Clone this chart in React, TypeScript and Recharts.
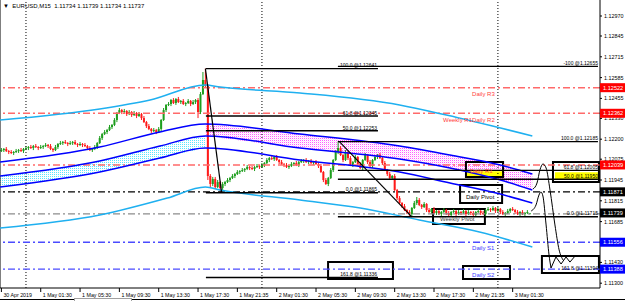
import {
  ComposedChart,
  Bar,
  Line,
  Area,
  Scatter,
  XAxis,
  YAxis,
  ReferenceLine,
  ReferenceArea,
} from "recharts";

// M15 candles, bar 0 = 30 Apr 21:30
const opens = [
  1.12126,1.12132,1.12139,1.12126,1.1212,1.12114,1.1212,1.12126,1.12132,1.12126,
  1.12139,1.12145,1.12151,1.12145,1.12157,1.12151,1.12145,1.12151,1.12157,1.12164,
  1.12157,1.12139,1.12132,1.12151,1.1217,1.12176,1.12182,1.12176,1.1217,1.12176,
  1.12182,1.1217,1.12164,1.1217,1.12164,1.12157,1.12145,1.12132,1.12139,1.12151,
  1.12176,1.12207,1.12232,1.12245,1.12257,1.12276,1.12289,1.1232,1.12364,1.12382,
  1.1237,1.12376,1.12357,1.1237,1.12351,1.12364,1.12345,1.12357,1.12332,1.12307,
  1.12282,1.12264,1.12251,1.12257,1.12245,1.12264,1.1232,1.12382,1.12414,1.1242,
  1.12445,1.12426,1.12451,1.12432,1.12439,1.1242,1.12426,1.12439,1.1242,1.12432,
  1.12445,1.1237,1.12482,1.1257,1.12532,1.1197,1.1192,1.11951,1.11901,1.11932,
  1.11895,1.1192,1.11932,1.11945,1.11957,1.1197,1.11982,1.11995,1.12001,1.12007,
  1.12014,1.12026,1.1202,1.12014,1.12026,1.12032,1.12026,1.12039,1.12051,1.1207,
  1.12082,1.12076,1.12089,1.1207,1.12057,1.12045,1.12039,1.12026,1.12032,1.12045,
  1.12051,1.12039,1.12057,1.12064,1.1207,1.12057,1.12064,1.12051,1.12057,1.12045,
  1.12032,1.11995,1.11945,1.1192,1.11957,1.12007,1.1207,1.1212,1.12145,1.12101,
  1.1207,1.1212,1.12082,1.12039,1.12057,1.12089,1.12045,1.1202,1.1207,1.12101,
  1.12057,1.12032,1.1207,1.12089,1.12101,1.12082,1.12051,1.12007,1.11982,1.11957,
  1.1197,1.11882,1.11832,1.11801,1.11782,1.11757,1.11745,1.11732,1.1177,1.11801,
  1.1182,1.11789,1.11776,1.11795,1.11757,1.11745,1.11764,1.11739,1.11751,1.11732,
  1.11745,1.11757,1.11739,1.11726,1.11745,1.11751,1.11732,1.11745,1.11739,1.11751,
  1.11732,1.11745,1.11739,1.11726,1.11745,1.11751,1.11739,1.11732,1.11757,1.11764,
  1.11757,1.1177,1.11751,1.11764,1.11745,1.11732,1.11739,1.11751,1.11764,1.11757,
  1.11745,1.11732,1.11745,1.11732,1.11739,1.11734,
];
const highs = [
  1.12145,1.12145,1.12151,1.12132,1.12132,1.12126,1.12139,1.12139,1.12145,1.12145,
  1.12157,1.12157,1.12164,1.12164,1.1217,1.12157,1.12164,1.12164,1.12176,1.1217,
  1.1217,1.12145,1.12164,1.12176,1.12189,1.12189,1.12195,1.12182,1.12189,1.12189,
  1.12195,1.12176,1.12182,1.12176,1.12176,1.12164,1.12157,1.12145,1.12164,1.12182,
  1.1222,1.12239,1.12257,1.12264,1.12289,1.12295,1.12332,1.1237,1.12395,1.12389,
  1.12389,1.12382,1.12382,1.12376,1.12376,1.1237,1.1237,1.12364,1.12345,1.12314,
  1.12295,1.1227,1.1227,1.12264,1.12276,1.12326,1.12395,1.1242,1.12432,1.12451,
  1.12457,1.12457,1.12464,1.12445,1.12451,1.12432,1.12451,1.12445,1.12445,1.12451,
  1.12457,1.12495,1.1262,1.12641,1.12545,1.11982,1.11964,1.11964,1.11945,1.11939,
  1.11932,1.11939,1.11957,1.11964,1.11982,1.11989,1.12007,1.12007,1.1202,1.1202,
  1.12039,1.12032,1.12032,1.12032,1.12045,1.12039,1.12051,1.12057,1.12082,1.12089,
  1.12095,1.12095,1.12101,1.12076,1.1207,1.12051,1.12051,1.12039,1.12057,1.12057,
  1.12064,1.12064,1.12076,1.12076,1.12082,1.1207,1.12076,1.12064,1.1207,1.12051,
  1.12045,1.12001,1.11957,1.11964,1.1202,1.12076,1.12132,1.12185,1.12157,1.12107,
  1.12132,1.12126,1.12095,1.12064,1.12101,1.12095,1.12057,1.12076,1.12114,1.12107,
  1.1207,1.12076,1.12101,1.12107,1.12114,1.12089,1.12064,1.12014,1.11995,1.11976,
  1.11982,1.11889,1.11845,1.11807,1.11795,1.11764,1.11757,1.11776,1.11814,1.11839,
  1.11832,1.11795,1.11807,1.11801,1.1177,1.1177,1.11776,1.11757,1.11757,1.11751,
  1.1177,1.11764,1.11751,1.11751,1.11764,1.11757,1.11757,1.11751,1.11764,1.11757,
  1.11757,1.11751,1.11751,1.11751,1.11764,1.11757,1.11751,1.11764,1.11776,1.1177,
  1.11782,1.11776,1.11776,1.1177,1.11757,1.11745,1.11764,1.1177,1.11776,1.11764,
  1.11757,1.11751,1.11757,1.11745,1.11757,1.11739,
];
const lows = [
  1.1212,1.1212,1.1212,1.12107,1.12107,1.12101,1.12114,1.12114,1.1212,1.12114,
  1.12132,1.12132,1.12139,1.12132,1.12145,1.12132,1.12139,1.12139,1.12151,1.12145,
  1.12132,1.1212,1.12126,1.12139,1.12164,1.12164,1.1217,1.12157,1.12164,1.12164,
  1.12164,1.12151,1.12157,1.12151,1.12151,1.12132,1.12126,1.1212,1.12132,1.12139,
  1.1217,1.12195,1.12226,1.12232,1.12251,1.12264,1.12282,1.12307,1.12357,1.12357,
  1.12364,1.12345,1.12351,1.12339,1.12345,1.12332,1.12339,1.1232,1.12301,1.1227,
  1.12257,1.12239,1.12245,1.12232,1.12239,1.12251,1.12314,1.1237,1.12407,1.12407,
  1.1242,1.12414,1.12426,1.1242,1.12414,1.12407,1.1242,1.12407,1.12414,1.1242,
  1.12332,1.12357,1.12476,1.1252,1.11945,1.11901,1.11907,1.11889,1.11895,1.11865,
  1.11882,1.11907,1.11926,1.11932,1.11951,1.11957,1.11976,1.11982,1.11995,1.11995,
  1.12007,1.12007,1.12007,1.12001,1.1202,1.12014,1.1202,1.12026,1.12045,1.12057,
  1.1207,1.12064,1.12064,1.12045,1.12039,1.12026,1.1202,1.12014,1.12026,1.12032,
  1.12032,1.12026,1.12051,1.12051,1.12051,1.12045,1.12045,1.12039,1.12039,1.1202,
  1.11989,1.11932,1.11914,1.11907,1.11951,1.11995,1.12064,1.12107,1.12095,1.12057,
  1.12064,1.1207,1.12032,1.12026,1.12051,1.12032,1.12014,1.12007,1.12064,1.12045,
  1.12026,1.1202,1.12064,1.12076,1.12076,1.12039,1.12001,1.1197,1.11951,1.11945,
  1.11876,1.1182,1.11795,1.1177,1.11751,1.11732,1.11715,1.1172,1.11764,1.11789,
  1.11782,1.11764,1.1177,1.11745,1.11739,1.11732,1.11732,1.11726,1.11726,1.1172,
  1.11739,1.11726,1.1172,1.11716,1.11739,1.1172,1.11726,1.11726,1.11732,1.1172,
  1.11726,1.11726,1.1172,1.11716,1.11739,1.11726,1.11726,1.1172,1.11751,1.11745,
  1.11751,1.11739,1.11745,1.11732,1.11726,1.1172,1.11732,1.11739,1.11751,1.11732,
  1.11726,1.1172,1.11726,1.1172,1.11732,1.11734,
];
const closes = [
  1.12132,1.12139,1.12126,1.1212,1.12114,1.1212,1.12126,1.12132,1.12126,1.12139,
  1.12145,1.12151,1.12145,1.12157,1.12151,1.12145,1.12151,1.12157,1.12164,1.12157,
  1.12139,1.12132,1.12151,1.1217,1.12176,1.12182,1.12176,1.1217,1.12176,1.12182,
  1.1217,1.12164,1.1217,1.12164,1.12157,1.12145,1.12132,1.12139,1.12151,1.12176,
  1.12207,1.12232,1.12245,1.12257,1.12276,1.12289,1.1232,1.12364,1.12382,1.1237,
  1.12376,1.12357,1.1237,1.12351,1.12364,1.12345,1.12357,1.12332,1.12307,1.12282,
  1.12264,1.12251,1.12257,1.12245,1.12264,1.1232,1.12382,1.12414,1.1242,1.12445,
  1.12426,1.12451,1.12432,1.12439,1.1242,1.12426,1.12439,1.1242,1.12432,1.12445,
  1.1237,1.12482,1.1257,1.12532,1.1197,1.1192,1.11951,1.11901,1.11932,1.11895,
  1.1192,1.11932,1.11945,1.11957,1.1197,1.11982,1.11995,1.12001,1.12007,1.12014,
  1.12026,1.1202,1.12014,1.12026,1.12032,1.12026,1.12039,1.12051,1.1207,1.12082,
  1.12076,1.12089,1.1207,1.12057,1.12045,1.12039,1.12026,1.12032,1.12045,1.12051,
  1.12039,1.12057,1.12064,1.1207,1.12057,1.12064,1.12051,1.12057,1.12045,1.12032,
  1.11995,1.11945,1.1192,1.11957,1.12007,1.1207,1.1212,1.12145,1.12101,1.1207,
  1.1212,1.12082,1.12039,1.12057,1.12089,1.12045,1.1202,1.1207,1.12101,1.12057,
  1.12032,1.1207,1.12089,1.12101,1.12082,1.12051,1.12007,1.11982,1.11957,1.1197,
  1.11882,1.11832,1.11801,1.11782,1.11757,1.11745,1.11732,1.1177,1.11801,1.1182,
  1.11789,1.11776,1.11795,1.11757,1.11745,1.11764,1.11739,1.11751,1.11732,1.11745,
  1.11757,1.11739,1.11726,1.11745,1.11751,1.11732,1.11745,1.11739,1.11751,1.11732,
  1.11745,1.11739,1.11726,1.11745,1.11751,1.11739,1.11732,1.11757,1.11764,1.11757,
  1.1177,1.11751,1.11764,1.11745,1.11732,1.11739,1.11751,1.11764,1.11757,1.11745,
  1.11732,1.11745,1.11732,1.11739,1.11745,1.11737,
];

const timeTicks = [0, 16, 32, 48, 64, 80, 96, 112, 128, 144, 160, 176, 192, 208];
const timeLabels = [
  "30 Apr 2019", "1 May 01:30", "1 May 05:30", "1 May 09:30", "1 May 13:30",
  "1 May 17:30", "1 May 21:35", "2 May 01:30", "2 May 05:30", "2 May 09:30",
  "2 May 13:30", "2 May 17:30", "2 May 21:35", "3 May 01:30",
];
const daySeparators = [10, 106, 202];

const priceTicks = [
  1.1297, 1.12845, 1.12715, 1.12585, 1.12455, 1.1233, 1.122,
  1.12075, 1.11945, 1.11815, 1.11685, 1.11556, 1.1143, 1.113,
];
const markPrices = [1.12522, 1.12362, 1.12039, 1.11871, 1.11739, 1.11556, 1.11388];

// pivot levels (R3, R2/W-R1, R1, P, W-P, S1, S2)
const pivotPrices = [1.12522, 1.12362, 1.12039, 1.11871, 1.11733, 1.11556, 1.11388];

// moving averages
const upperCyanBars = [-0.5, 40, 60.5, 83, 89, 121.5, 162, 181, 216];
const upperCyan = [1.1232, 1.12389, 1.12445, 1.12539, 1.12526, 1.12489, 1.12414, 1.12351, 1.1222];
const lowerCyanBars = [-0.5, 40, 67.5, 83, 89, 121.5, 146, 170, 194.5, 216];
const lowerCyan = [1.11645, 1.11726, 1.11832, 1.11901, 1.11882, 1.1182, 1.1177, 1.11695, 1.1162, 1.11526];
const envBars = [-0.5, 40, 64.5, 83, 121.5, 162, 182.5, 203, 216];
const envUpper = [1.12057, 1.12151, 1.12245, 1.12295, 1.12232, 1.12157, 1.12101, 1.12039, 1.11982];
const envMid = [1.1197, 1.12064, 1.12157, 1.1222, 1.12145, 1.12076, 1.1202, 1.11945, 1.11882];
const envLower = [1.11901, 1.11995, 1.12082, 1.12145, 1.1207, 1.11995, 1.11926, 1.11857, 1.11801];

// fibonacci tools
const fib1Span = [83.2, 153.2];
const fib1Levels = [1.12641, 1.12345, 1.12253, 1.11865, 1.11336];
const fib1Trend = [[83, 1.12641], [89.6, 1.11865]];
const fib2Span = [136.9, 242.7];
const fib2Levels = [1.12655, 1.12185, 1.12005, 1.1195, 1.11715];
const fib2Trend = [[137.5, 1.12185], [167, 1.11715]];

// boxes drawn on chart: [bar1, bar2, price1, price2]
const boxes = [
  [132.9, 159.3, 1.11433, 1.11326],
  [189.0, 204.1, 1.12058, 1.11964],
  [186.6, 203.7, 1.11914, 1.11801],
  [175.6, 196.7, 1.11764, 1.1167],
  [224.4, 243.1, 1.12058, 1.11933],
  [219.9, 243.1, 1.1147, 1.11364],
  [187.8, 206.9, 1.11408, 1.11326],
];
const yellowBoxes = [
  [189.4, 204.1, 1.11999, 1.11958],
  [225.2, 242.7, 1.11993, 1.11952],
];

// hand drawn projection strokes
const stroke1Bars = [215.5, 217.5, 218.7, 219.5, 220.3, 221.6, 222.8, 223.6];
const stroke1 = [1.11751, 1.11789, 1.11851, 1.1187, 1.11845, 1.11664, 1.11476, 1.11395];
const stroke2Bars = [216.3, 217.9, 219.1, 220.3, 221.6, 223.2, 225.2, 226.9, 228.5];
const stroke2 = [1.11889, 1.11926, 1.12008, 1.12045, 1.1202, 1.11882, 1.11664, 1.11508, 1.11445];
const stroke3Bars = [223.6, 225.6, 227.7, 229.7, 231.3, 233.4];
const stroke3 = [1.11395, 1.11464, 1.1142, 1.11464, 1.11432, 1.1147];

// text notes
const noteBars = [
  191.5, 179.7, 191.5, 190.6, 189.0, 178.4, 191.5, 191.5,
  152.8, 152.8, 152.8, 152.8, 152.8,
  242.7, 242.7, 242.7, 242.7, 242.7, 242.7,
];
const notePrices = [
  1.1247, 1.12307, 1.12307, 1.11989, 1.11826, 1.11689, 1.11508, 1.11339,
  1.12651, 1.12351, 1.12258, 1.11876, 1.11345,
  1.12664, 1.12195, 1.12014, 1.11958, 1.11726, 1.11383,
];
const noteTexts = [
  "Daily R3", "Weekly R1", "Daily R2", "Daily R1", "Daily Pivot", "Weekly Pivot", "Daily S1", "Daily S2",
  "100.0 @1.12641", "61.8 @1.12345", "50.0 @1.12253", "0.0 @1.11865", "161.8 @1.11336",
  "-100 @1.12655", "100.0 @1.12185", "61.8 @1.12005", "50.0 @1.11950", "0.0 @1.11715", "161.8 @1.11394",
];

const FONT = "'Liberation Sans', Arial, sans-serif";
const markFills = ["#ff0000", "#ff0000", "#ff0000", "#000000", "#000000", "#0000ff", "#0000ff"];
const pivotColors = ["#ff6a6a", "#ff6a6a", "#ff6a6a", "#000000", "#8c8c8c", "#4b4bff", "#4b4bff"];
const noteColors = [
  "#ff4040", "#ff4040", "#ff4040", "#ff4040", "#000000", "#404040", "#3a3aff", "#3a3aff",
];

const candles = opens.map((o, i) => ({ i, o, h: highs[i], l: lows[i], c: closes[i] }));
const series = (bars: number[], vals: number[]) => bars.map((b, k) => ({ i: b, v: vals[k] }));
const preFill = envBars.slice(0, 4).map((b, k) => ({ i: b, r: [envLower[k], envMid[k]] }));
const postFill = envBars.slice(3).map((b, k) => ({ i: b, r: [envMid[k + 3], envUpper[k + 3]] }));
const notes = noteBars.map((b, k) => ({ i: b, p: notePrices[k], t: noteTexts[k], k }));

function Candle(props: any) {
  const { x, y, width, height, payload } = props;
  if (payload == null || height == null) return null;
  const { o, h, l, c } = payload;
  const top = Math.min(y, y + height);
  const span = Math.abs(height);
  const k = h - l > 0 ? span / (h - l) : 0;
  const b1 = top + (h - Math.max(o, c)) * k;
  const b2 = top + (h - Math.min(o, c)) * k;
  const cx = x + width / 2;
  const col = c >= o ? "#1e9e1e" : "#ff1a1a";
  return (
    <g>
      <line x1={cx} x2={cx} y1={top} y2={top + span} stroke={col} strokeWidth={1} />
      <rect x={cx - 1} y={b1} width={2} height={Math.max(1, b2 - b1)} fill={col} />
    </g>
  );
}

function NoteShape(props: any) {
  const { cx, cy, payload } = props;
  const k = payload.k;
  const pivot = k < 8;
  return (
    <text
      x={cx}
      y={cy}
      fontSize={pivot ? 6 : 5}
      fontFamily={FONT}
      textAnchor={pivot ? "start" : "end"}
      fill={pivot ? noteColors[k] : "#000"}
    >
      {payload.t}
    </text>
  );
}

function PriceTick(props: any) {
  const { x, y, payload } = props;
  const v = payload.value;
  const k = markPrices.indexOf(v);
  if (k >= 0 && props.index >= priceTicks.length) {
    return (
      <g>
        <rect x={x} y={y - 4.5} width={25} height={9} fill={markFills[k]} />
        <text x={x + 3} y={y + 2.2} fontSize={5.6} fontFamily={FONT} fill="#fff">
          {v.toFixed(5)}
        </text>
      </g>
    );
  }
  return (
    <g>
      <line x1={x} x2={x + 2} y1={y} y2={y} stroke="#000" />
      <text x={x + 4} y={y + 2} fontSize={5.4} fontFamily={FONT} fill="#000">
        {v.toFixed(5)}
      </text>
    </g>
  );
}

function TimeTick(props: any) {
  const { x, y, payload } = props;
  const k = timeTicks.indexOf(payload.value);
  return (
    <g>
      <line x1={x} x2={x} y1={y} y2={y + 4} stroke="#000" />
      <text x={x + 2} y={y + 9} fontSize={5.3} fontFamily={FONT} fill="#000">
        {timeLabels[k]}
      </text>
    </g>
  );
}

export default function App() {
  const dashDot = "7 3 2 3";
  return (
    <div style={{ position: "relative", width: 625, height: 301, background: "#fff", overflow: "hidden" }}>
      <style>{"body{margin:0}"}</style>
      <ComposedChart
        width={625}
        height={301}
        data={candles}
        margin={{ top: 0, right: 0, bottom: 0, left: 0 }}
      >
        <defs>
          <pattern id="cyanDots" width="2" height="2" patternUnits="userSpaceOnUse">
            <rect width="1" height="1" fill="#5de6ff" />
          </pattern>
          <pattern id="pinkDots" width="2" height="2" patternUnits="userSpaceOnUse">
            <rect width="1" height="1" fill="#ff5cff" />
            <rect x="1" y="1" width="1" height="1" fill="#ffe0ff" />
          </pattern>
        </defs>
        <XAxis
          type="number"
          dataKey="i"
          domain={[-0.57, 243.53]}
          allowDataOverflow
          ticks={timeTicks}
          interval={0}
          tick={<TimeTick />}
          tickLine={false}
          tickSize={0}
          tickMargin={0}
          height={13}
          axisLine={{ stroke: "#000" }}
        />
        <YAxis
          type="number"
          orientation="right"
          domain={[1.1127, 1.1307]}
          allowDataOverflow
          ticks={[...priceTicks, ...markPrices]}
          interval={0}
          tick={<PriceTick />}
          tickLine={false}
          tickSize={0}
          tickMargin={0}
          width={25}
          axisLine={{ stroke: "#000" }}
        />

        <ReferenceLine x={-0.57} stroke="#000" ifOverflow="visible" />
        {daySeparators.map((d) => (
          <ReferenceLine key={"d" + d} x={d} stroke="#000" strokeDasharray="1 2" />
        ))}

        <Area data={preFill} dataKey="r" type="monotone" stroke="none" fill="url(#cyanDots)" fillOpacity={1} isAnimationActive={false} />
        <Area data={postFill} dataKey="r" type="monotone" stroke="none" fill="url(#pinkDots)" fillOpacity={1} isAnimationActive={false} />

        {yellowBoxes.map((b, k) => (
          <ReferenceArea key={"yb" + k} x1={b[0]} x2={b[1]} y1={b[2]} y2={b[3]} fill="#ffff00" fillOpacity={1} stroke="none" ifOverflow="visible" />
        ))}

        {pivotPrices.map((p, k) => (
          <ReferenceLine key={"pv" + k} y={p} stroke={pivotColors[k]} strokeWidth={1.4} strokeDasharray={dashDot} />
        ))}

        <Line data={series(upperCyanBars, upperCyan)} dataKey="v" type="monotone" stroke="#1fb0f0" strokeWidth={1.5} dot={false} isAnimationActive={false} />
        <Line data={series(lowerCyanBars, lowerCyan)} dataKey="v" type="monotone" stroke="#1fb0f0" strokeWidth={1.5} dot={false} isAnimationActive={false} />
        <Line data={series(envBars, envUpper)} dataKey="v" type="monotone" stroke="#0000ff" strokeWidth={1.5} dot={false} isAnimationActive={false} />
        <Line data={series(envBars, envMid)} dataKey="v" type="monotone" stroke="#0000ff" strokeWidth={1.5} dot={false} isAnimationActive={false} />
        <Line data={series(envBars, envLower)} dataKey="v" type="monotone" stroke="#0000ff" strokeWidth={1.5} dot={false} isAnimationActive={false} />

        <Bar dataKey={(d: any) => [d.l, d.h]} barSize={2} shape={<Candle />} isAnimationActive={false} />

        {fib1Levels.map((p, k) => (
          <ReferenceLine key={"f1" + k} segment={[{ x: fib1Span[0], y: p }, { x: fib1Span[1], y: p }]} stroke="#000" strokeWidth={1.4} ifOverflow="visible" />
        ))}
        <ReferenceLine segment={[{ x: fib1Trend[0][0], y: fib1Trend[0][1] }, { x: fib1Trend[1][0], y: fib1Trend[1][1] }]} stroke="#000" strokeWidth={1.2} ifOverflow="visible" />
        {fib2Levels.map((p, k) => (
          <ReferenceLine key={"f2" + k} segment={[{ x: fib2Span[0], y: p }, { x: fib2Span[1], y: p }]} stroke="#000" strokeWidth={1.4} ifOverflow="visible" />
        ))}
        <ReferenceLine segment={[{ x: fib2Trend[0][0], y: fib2Trend[0][1] }, { x: fib2Trend[1][0], y: fib2Trend[1][1] }]} stroke="#000" strokeWidth={1.2} ifOverflow="visible" />

        {boxes.map((b, k) => (
          <ReferenceArea key={"bx" + k} x1={b[0]} x2={b[1]} y1={b[2]} y2={b[3]} fill="none" fillOpacity={0} stroke="#000" strokeWidth={2} ifOverflow="visible" />
        ))}

        <Line data={series(stroke1Bars, stroke1)} dataKey="v" type="monotone" stroke="#000" strokeWidth={1} dot={false} isAnimationActive={false} />
        <Line data={series(stroke2Bars, stroke2)} dataKey="v" type="monotone" stroke="#000" strokeWidth={1} dot={false} isAnimationActive={false} />
        <Line data={series(stroke3Bars, stroke3)} dataKey="v" type="linear" stroke="#000" strokeWidth={1} dot={false} isAnimationActive={false} />

        <Scatter data={notes} dataKey="p" shape={<NoteShape />} isAnimationActive={false} />
      </ComposedChart>
      <div
        style={{
          position: "absolute",
          left: 3,
          top: 3,
          fontFamily: FONT,
          fontSize: 6,
          lineHeight: "6px",
          whiteSpace: "pre",
          color: "#000",
        }}
      >
        {"▼  EURUSD,M15  1.11734 1.11739 1.11734 1.11737"}
      </div>
      <div style={{ position: "absolute", left: 0, top: 299, width: 74, height: 1, background: "#000" }} />
      <div style={{ position: "absolute", left: 74, top: 298, width: 56, height: 4, border: "1px solid #a0a0a0", borderBottom: "none", background: "#fff" }} />
      <div style={{ position: "absolute", left: 132, top: 299, width: 493, height: 1, background: "#000" }} />
    </div>
  );
}
